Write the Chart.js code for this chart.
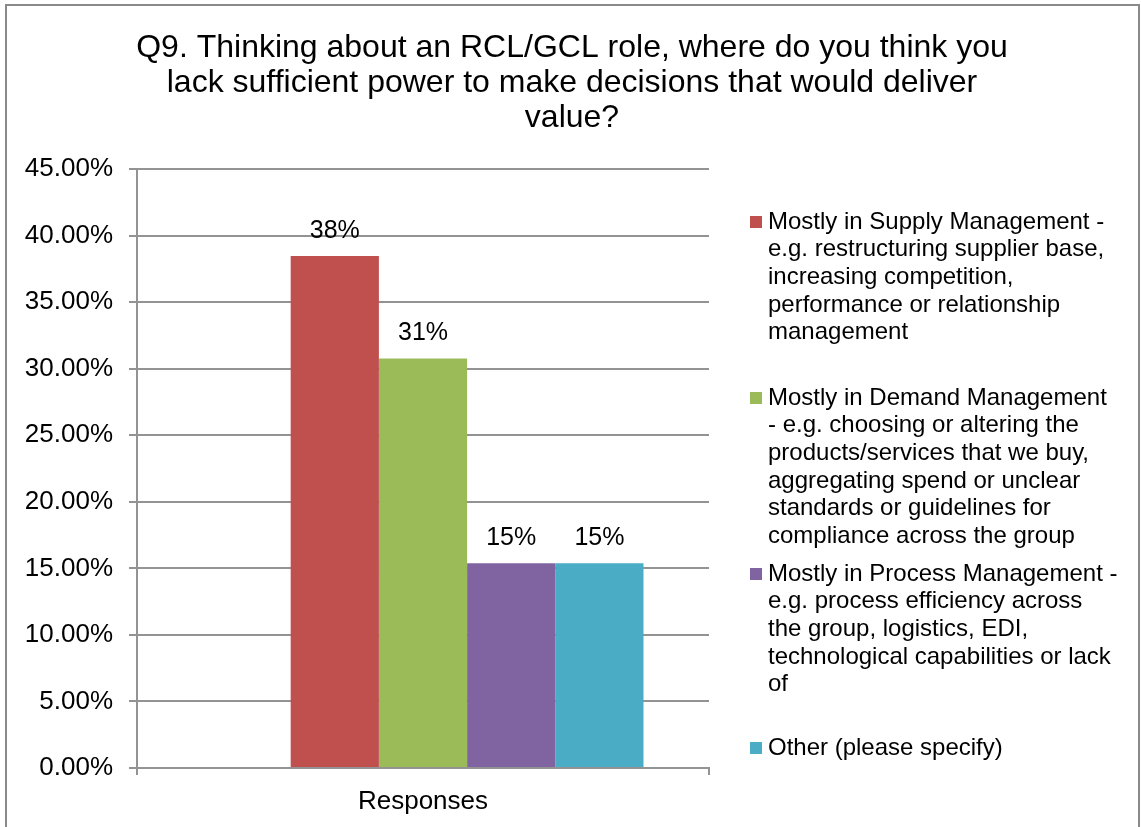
<!DOCTYPE html>
<html>
<head>
<meta charset="utf-8">
<script src="https://cdn.jsdelivr.net/npm/chart.js@4/dist/chart.umd.min.js"></script>
<style>
  html, body { margin: 0; padding: 0; background: #fff; }
  #wrap { width: 1141px; height: 827px; position: relative; }
</style>
</head>
<body>
<div id="wrap"><canvas id="c" width="1141" height="827"></canvas></div>
<script>
// ---- Data ----
const titleLines = [
  'Q9. Thinking about an RCL/GCL role, where do you think you',
  'lack sufficient power to make decisions that would deliver',
  'value?'
];
const categories = ['Responses'];
const seriesNames = [
  'Mostly in Supply Management - e.g. restructuring supplier base, increasing competition, performance or relationship management',
  'Mostly in Demand Management - e.g. choosing or altering the products/services that we buy, aggregating spend or unclear standards or guidelines for compliance across the group',
  'Mostly in Process Management - e.g. process efficiency across the group, logistics, EDI, technological capabilities or lack of',
  'Other (please specify)'
];
const legendLines = [
  ['Mostly in Supply Management -', 'e.g. restructuring supplier base,', 'increasing competition,', 'performance or relationship', 'management'],
  ['Mostly in Demand Management', '- e.g. choosing or altering the', 'products/services that we buy,', 'aggregating spend or unclear', 'standards or guidelines for', 'compliance across the group'],
  ['Mostly in Process Management -', 'e.g. process efficiency across', 'the group, logistics, EDI,', 'technological capabilities or lack', 'of'],
  ['Other (please specify)']
];
const blankValues = [null];
const supplyValues = [38.46];
const demandValues = [30.77];
const processValues = [15.38];
const otherValues = [15.38];
const yTicks = [0, 5, 10, 15, 20, 25, 30, 35, 40, 45];

// ---- Styles ----
const FONT = "'Liberation Sans', Arial, Helvetica, sans-serif";
const colors = ['#C0504D', '#9BBB59', '#8064A2', '#4BACC6'];
const gridColor = '#939393';

const frameTitleLegend = {
  id: 'frameTitleLegend',
  beforeDraw(chart) {
    const ctx = chart.ctx;
    ctx.save();
    ctx.fillStyle = '#fff';
    ctx.fillRect(0, 0, chart.width, chart.height);
    ctx.strokeStyle = '#8a8a8a';
    ctx.lineWidth = 2;
    ctx.strokeRect(6, 5, 1133, 900);
    ctx.restore();
  },
  afterDraw(chart) {
    const ctx = chart.ctx;
    ctx.save();
    // Title
    ctx.fillStyle = '#000';
    ctx.font = '32px ' + FONT;
    ctx.textAlign = 'center';
    ctx.textBaseline = 'alphabetic';
    const baselines = [57, 92, 127];
    titleLines.forEach((t, i) => ctx.fillText(t, 572, baselines[i]));

    // Data labels
    ctx.font = '25px ' + FONT;
    ctx.textBaseline = 'middle';
    chart.data.datasets.forEach((ds, di) => {
      const meta = chart.getDatasetMeta(di);
      meta.data.forEach((el, i) => {
        const v = ds.data[i];
        if (v === null || v === undefined) return;
        ctx.fillText(Math.round(v) + '%', el.x, el.y - 25);
      });
    });

    // Legend
    const starts = [222, 398, 574, 748];
    const lh = 27.7;
    ctx.font = '24px ' + FONT;
    ctx.textAlign = 'left';
    legendLines.forEach((lines, i) => {
      const y0 = starts[i];
      ctx.fillStyle = colors[i];
      ctx.fillRect(750, y0 - 6, 12, 12);
      ctx.fillStyle = '#000';
      lines.forEach((ln, j) => ctx.fillText(ln, 768, y0 + j * lh));
    });
    ctx.restore();
  }
};

const valueSeries = [supplyValues, demandValues, processValues, otherValues];
const datasets = [{ label: '', data: blankValues, backgroundColor: 'rgba(0,0,0,0)' }]
  .concat(valueSeries.map((vals, i) => ({
    label: seriesNames[i],
    data: vals,
    backgroundColor: colors[i],
    borderWidth: 0
  })));

new Chart(document.getElementById('c'), {
  type: 'bar',
  data: { labels: categories, datasets: datasets },
  options: {
    responsive: false,
    animation: false,
    devicePixelRatio: 1,
    layout: { padding: { top: 169, right: 432, bottom: 0, left: 0 } },
    datasets: { bar: { categoryPercentage: 0.771, barPercentage: 1.0 } },
    plugins: {
      legend: { display: false },
      title: { display: false },
      tooltip: { enabled: false }
    },
    scales: {
      x: {
        offset: true,
        afterFit(s) { s.height = 59; },
        grid: { offset: true, drawOnChartArea: false, drawTicks: true, tickLength: 7, color: gridColor, lineWidth: 2 },
        border: { display: true, color: gridColor, width: 2 },
        ticks: { color: '#000', font: { family: FONT, size: 26 }, padding: 11, maxRotation: 0 }
      },
      y: {
        min: 0,
        max: 45,
        afterFit(s) { s.width = 137; },
        afterBuildTicks(s) { s.ticks = yTicks.map(v => ({ value: v })); },
        grid: { color: gridColor, lineWidth: 2, tickLength: 8, drawTicks: true },
        border: { display: true, color: gridColor, width: 2 },
        ticks: {
          color: '#000',
          font: { family: FONT, size: 26 },
          padding: 16,
          callback: v => v.toFixed(2) + '%'
        }
      }
    }
  },
  plugins: [frameTitleLegend]
});
</script>
</body>
</html>
